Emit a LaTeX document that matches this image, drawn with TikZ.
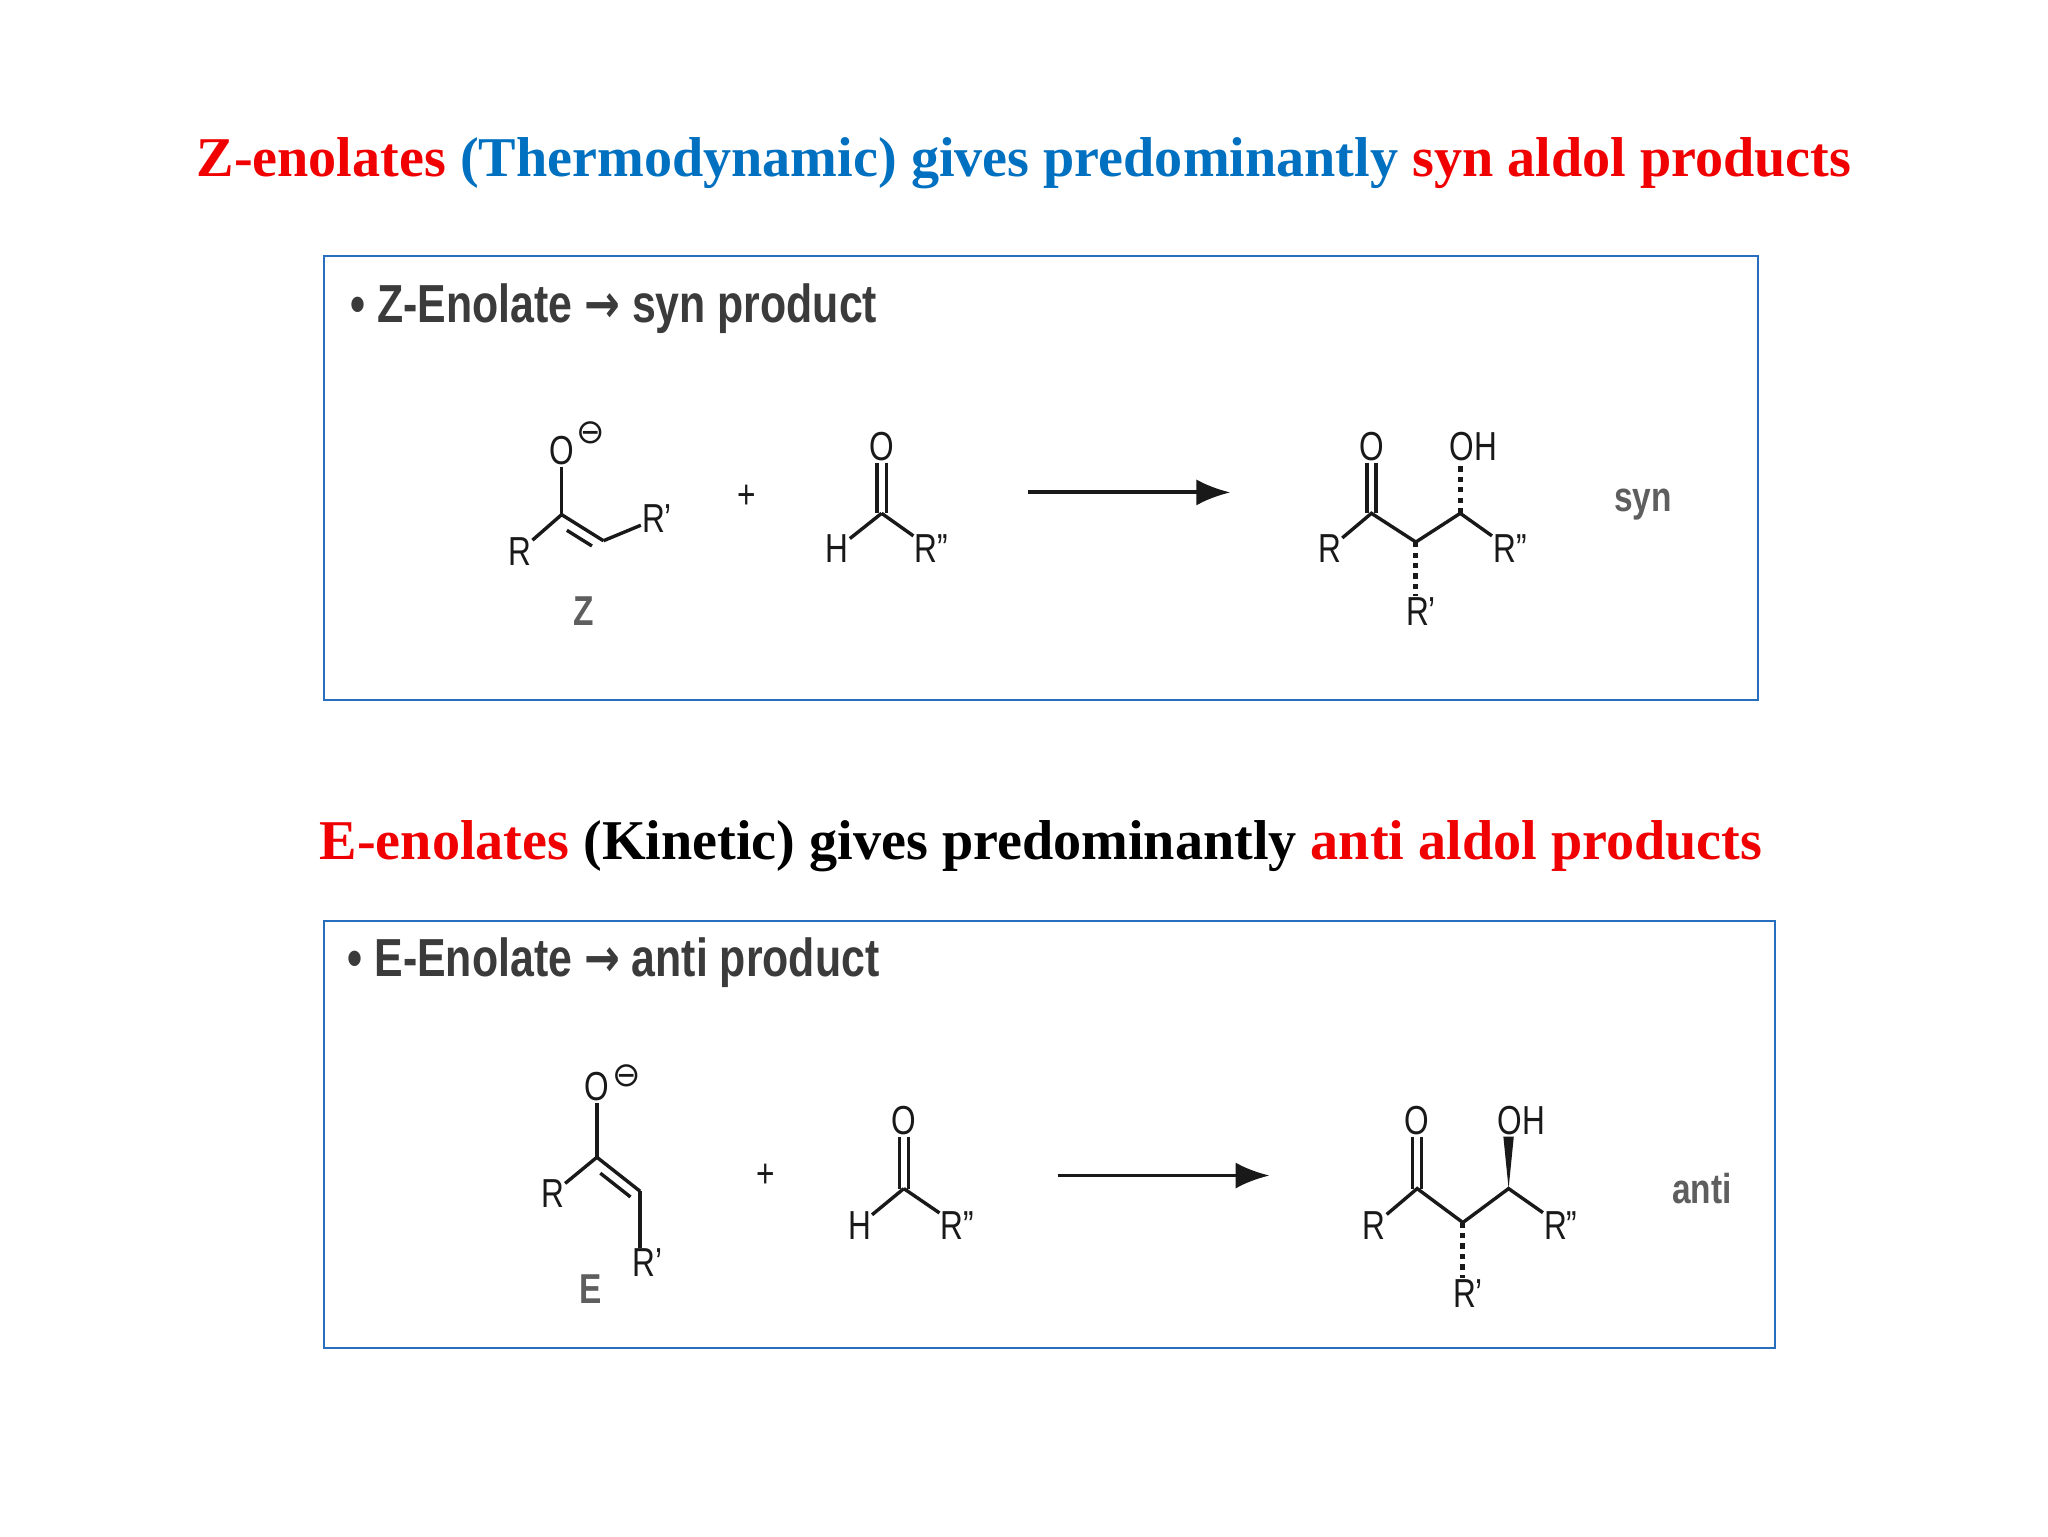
\documentclass[tikz,border=0pt]{standalone}
\usepackage{fontspec}
\usetikzlibrary{calc,arrows.meta}
\setmainfont{Liberation Serif}
\setsansfont{Liberation Sans}
\newfontfamily\dejavu{DejaVu Sans}
\definecolor{tblue}{RGB}{0,112,192}
\definecolor{tred}{RGB}{240,0,0}
\definecolor{boxc}{RGB}{40,110,190}
\definecolor{ink}{RGB}{25,25,25}
\newcommand{\rp}{R\char"27}
\newcommand{\rpp}{R\char"22}
\begin{document}
\begin{tikzpicture}[x=1pt,y=-1pt,
  atom/.style={font=\sffamily\fontsize{31}{31}\selectfont,inner sep=1pt,text=ink,xscale=0.78},
  chg/.style={font=\dejavu\fontsize{26}{26}\selectfont,inner sep=0pt,text=ink},
  bond/.style={line width=2.6pt,draw=ink},
  hash/.style={line width=4pt,draw=ink,dash pattern=on 4pt off 4pt},
  frame/.style={draw=boxc,line width=1.3pt},
  ttl/.style={font=\bfseries\fontsize{43}{43}\selectfont,inner sep=0pt},
  head/.style={font=\sffamily\bfseries\fontsize{41}{41}\selectfont,text=ink!85,inner sep=0pt,xscale=0.8,anchor=west},
  lab/.style={font=\sffamily\bfseries\fontsize{32}{32}\selectfont,text=ink!70,inner sep=0pt,xscale=0.8},
  arr/.style={line width=3pt,draw=ink,-{Latex[length=26pt,width=20pt]}}]
\useasboundingbox (0,0) rectangle (1568,1176);
\fill[white] (0,0) rectangle (1568,1176);
% titles
\node[ttl] (t1) at (784,125) {\textcolor{tred}{Z-enolates}\ \textcolor{tblue}{(Thermodynamic) gives predominantly}\ \textcolor{tred}{syn aldol products}};
\node[ttl] (t2) at (797,648) {\textcolor{tred}{E-enolates} (Kinetic) gives predominantly \textcolor{tred}{anti aldol products}};
% boxes
\node[frame,minimum width=1098pt,minimum height=340pt,inner sep=0pt] (b1) at (797,366) {};
\node[frame,minimum width=1111pt,minimum height=327pt,inner sep=0pt] (b2) at (803.5,868.5) {};
\node[head] (h1) at (268,236) {\textbullet\ Z-Enolate {\dejavu\bfseries\char"2192} syn product};
\node[head] (h2) at (266,737) {\textbullet\ E-Enolate {\dejavu\bfseries\char"2192} anti product};

% ---------- Z enolate ----------
\node[atom] (zO) at (430,345) {O};
\node[chg] (zm) at (452,331) {⊖};
\coordinate (zC) at (430,394);
\coordinate (zC2) at (462,414);
\node[atom] (zR) at (398,422) {R};
\node[atom] (zRp) at (503,397) {\rp};
\node[lab] (zZ) at (447,468) {Z};
\draw[bond] (zO) -- (zC);
\draw[bond] (zR) -- (zC);
\draw[bond] (zC) -- (zC2);
\draw[bond] ($(zC)!0.25!(zC2)+(-4,7)$) -- ($(zC)!0.85!(zC2)+(-4,7)$);
\draw[bond] (zC2) -- (zRp);
\node[atom] (p1) at (572,380) {+};
% aldehyde 1
\node[atom] (a1O) at (675,342) {O};
\coordinate (a1C) at (675,393);
\node[atom] (a1H) at (641,420) {H};
\node[atom] (a1R) at (713,420) {\rpp};
\draw[bond] ([xshift=-3.5pt]a1O.south) -- ([xshift=-3.5pt]a1C);
\draw[bond] ([xshift=3.5pt]a1O.south) -- ([xshift=3.5pt]a1C);
\draw[bond] (a1C) -- (a1H);
\draw[bond] (a1C) -- (a1R);
\coordinate (ar1s) at (787,377); \coordinate (ar1e) at (942,377);
\draw[arr] (ar1s) -- (ar1e);
% product 1
\node[atom] (s1O) at (1050,342) {O};
\coordinate (s1C1) at (1050,393);
\node[atom] (s1R) at (1018,420) {R};
\coordinate (s1C2) at (1084,415);
\coordinate (s1C3) at (1118,393);
\node[atom] (s1OH) at (1128,342) {OH};
\node[atom] (s1R2) at (1156,420) {\rpp};
\node[atom] (s1Rp) at (1088,468) {\rp};
\draw[bond] ([xshift=-3.5pt]s1O.south) -- ([xshift=-3.5pt]s1C1);
\draw[bond] ([xshift=3.5pt]s1O.south) -- ([xshift=3.5pt]s1C1);
\draw[bond] (s1R) -- (s1C1) -- (s1C2) -- (s1C3) -- (s1R2);
\draw[hash] (s1C2) -- ([xshift=-4pt]s1Rp.north);
\draw[hash] (s1C3) -- ([xshift=-10pt]s1OH.south);
\node[lab] (syn) at (1258,386) {syn};

% ---------- E enolate ----------
\node[atom] (eO) at (457,832) {O};
\node[chg] (em) at (480,824) {⊖};
\coordinate (eC) at (457,886);
\coordinate (eC2) at (490,912);
\node[atom] (eR) at (423,914) {R};
\node[atom] (eRp) at (496,967) {\rp};
\node[lab] (eE) at (452,987) {E};
\draw[bond] (eO) -- (eC);
\draw[bond] (eR) -- (eC);
\draw[bond] (eC) -- (eC2);
\draw[bond] ($(eC)!0.2!(eC2)+(-4,7)$) -- ($(eC)!0.9!(eC2)+(-4,7)$);
\draw[bond] (eC2) -- ([xshift=-6pt]eRp.north);
\node[atom] (p2) at (586,900) {+};
% aldehyde 2
\node[atom] (a2O) at (692,858) {O};
\coordinate (a2C) at (692,910);
\node[atom] (a2H) at (658,938) {H};
\node[atom] (a2R) at (733,938) {\rpp};
\draw[bond] ([xshift=-3.5pt]a2O.south) -- ([xshift=-3.5pt]a2C);
\draw[bond] ([xshift=3.5pt]a2O.south) -- ([xshift=3.5pt]a2C);
\draw[bond] (a2C) -- (a2H);
\draw[bond] (a2C) -- (a2R);
\coordinate (ar2s) at (810,900); \coordinate (ar2e) at (972,900);
\draw[arr] (ar2s) -- (ar2e);
% product 2
\node[atom] (s2O) at (1085,858) {O};
\coordinate (s2C1) at (1085,910);
\node[atom] (s2R) at (1052,938) {R};
\coordinate (s2C2) at (1120,936);
\coordinate (s2C3) at (1155,910);
\node[atom] (s2OH) at (1165,858) {OH};
\node[atom] (s2R2) at (1195,938) {\rpp};
\node[atom] (s2Rp) at (1124,990) {\rp};
\draw[bond] ([xshift=-3.5pt]s2O.south) -- ([xshift=-3.5pt]s2C1);
\draw[bond] ([xshift=3.5pt]s2O.south) -- ([xshift=3.5pt]s2C1);
\draw[bond] (s2R) -- (s2C1) -- (s2C2) -- (s2C3) -- (s2R2);
\draw[hash] (s2C2) -- ([xshift=-4pt]s2Rp.north);
\fill[ink] (s2C3) -- ($(s2OH.south)+(-14,0)$) -- ($(s2OH.south)+(-6,0)$) -- cycle;
\node[lab] (anti) at (1303,910) {anti};
\end{tikzpicture}
\end{document}
